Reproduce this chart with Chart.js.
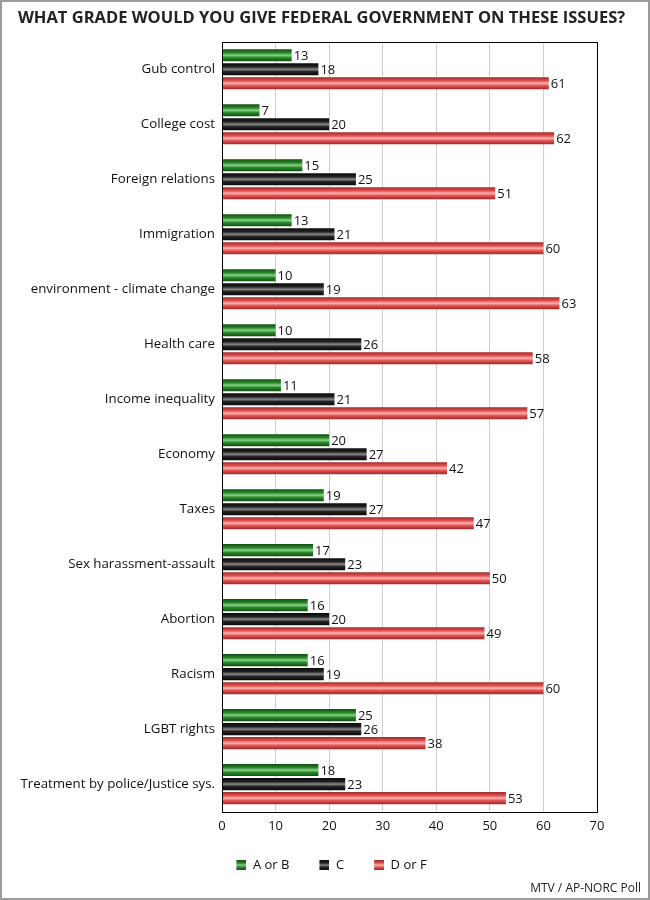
<!DOCTYPE html>
<html>
<head>
<meta charset="utf-8">
<script src="https://cdn.jsdelivr.net/npm/chart.js@4/dist/chart.umd.min.js"></script>
<style>
  html, body { margin: 0; padding: 0; background: #fff; }
  #wrap { width: 650px; height: 900px; box-sizing: border-box; border: 2px solid #9a9a9a; }
  #grade-graph { display: block; }
</style>
</head>
<body>
<div id="wrap"><canvas id="grade-graph" width="646" height="896"></canvas></div>
<script>
"use strict";

var issues = [
  "Gub control", "College cost", "Foreign relations", "Immigration",
  "environment - climate change", "Health care", "Income inequality",
  "Economy", "Taxes", "Sex harassment-assault", "Abortion", "Racism",
  "LGBT rights", "Treatment by police/Justice sys."
];
var seriesNames = ["A or B", "C", "D or F"];
var gradeAB = [13, 7, 15, 13, 10, 10, 11, 20, 19, 17, 16, 16, 25, 18];
var gradeC  = [18, 20, 25, 21, 19, 26, 21, 27, 27, 23, 20, 19, 26, 23];
var gradeDF = [61, 62, 51, 60, 63, 58, 57, 42, 47, 50, 49, 60, 38, 53];
var xTicks = [0, 10, 20, 30, 40, 50, 60, 70];

//NOTE 0 = A OR B (GREEN), 1 = C (BLACK), 2 = D OR F (RED)
var shades = [
  { edge: "#134d13", mid: "#2a872a", shine: "#86d486" },
  { edge: "#0a0a0a", mid: "#222222", shine: "#8a8a8a" },
  { edge: "#a02828", mid: "#e35252", shine: "#ffb3b3" }
];

var FONT = "'Open Sans', 'DejaVu Sans', sans-serif";
var LEGEND_GAP = 20; // blank room left of each legend swatch

function makeGradient(ctx, top, bottom, s)
{
  var g = ctx.createLinearGradient(0, top, 0, bottom);
  g.addColorStop(0, s.edge);
  g.addColorStop(0.3, s.mid);
  g.addColorStop(0.5, s.shine);
  g.addColorStop(0.7, s.mid);
  g.addColorStop(1, s.edge);
  return g;
}

function legendBox(s)
{
  var c = document.createElement("canvas");
  c.width = LEGEND_GAP + 10;
  c.height = 10;
  var x = c.getContext("2d");
  x.fillStyle = makeGradient(x, 0, 10, s);
  x.fillRect(LEGEND_GAP, 0, 10, 10);
  return c;
}

// shiny bars: swap each bar's fill for a vertical gradient before drawing
var shinePlugin = {
  id: "shine",
  beforeDatasetsDraw: function(chart) {
    var ctx = chart.ctx;
    chart.data.datasets.forEach(function(ds, i) {
      chart.getDatasetMeta(i).data.forEach(function(bar) {
        var h = bar.height;
        var opts = Object.assign({}, bar.options);
        opts.backgroundColor = makeGradient(ctx, bar.y - h / 2, bar.y + h / 2, shades[i]);
        bar.options = opts;
      });
    });
  },
  afterDatasetsDraw: function(chart) {
    var ctx = chart.ctx;
    ctx.save();
    ctx.font = "13px " + FONT;
    ctx.fillStyle = "#111";
    ctx.textBaseline = "middle";
    ctx.textAlign = "left";
    chart.data.datasets.forEach(function(ds, i) {
      chart.getDatasetMeta(i).data.forEach(function(bar, j) {
        ctx.fillText(String(ds.data[j]), bar.x + 2, bar.y + 1);
      });
    });
    //PLOT FRAME
    var a = chart.chartArea;
    ctx.strokeStyle = "#000";
    ctx.lineWidth = 1;
    ctx.strokeRect(Math.round(a.left) + 0.5, Math.round(a.top) + 0.5,
                   Math.round(a.right - a.left), Math.round(a.bottom - a.top));
    ctx.restore();
  }
};

var seriesData = [gradeAB, gradeC, gradeDF];
var datasets = seriesNames.map(function(name, i) {
  return {
    label: name,
    data: seriesData[i],
    backgroundColor: shades[i].mid,
    borderWidth: 0,
    categoryPercentage: 0.765,
    barPercentage: 0.86,
    pointStyle: legendBox(shades[i])
  };
});

var ctx = document.getElementById("grade-graph").getContext("2d");
var graph = new Chart(ctx, {
  type: "bar",
  data: { labels: issues, datasets: datasets },
  plugins: [shinePlugin],
  options: {
    indexAxis: "y",
    responsive: false,
    animation: false,
    layout: { padding: { top: 0, right: 7, bottom: 0, left: 0 } },
    scales: {
      x: {
        min: 0,
        max: 70,
        afterBuildTicks: function(scale) {
          scale.ticks = xTicks.map(function(v) { return { value: v }; });
        },
        afterFit: function(scale) {
          scale.paddingRight = 51;
          scale.height = 37;
        },
        grid: { color: "#cfcfcf", drawTicks: false },
        border: { display: false },
        ticks: { color: "#111", padding: 7, font: { family: FONT, size: 13 } }
      },
      y: {
        afterFit: function(scale) { scale.width = 220; },
        grid: { display: false, drawTicks: false },
        border: { display: false },
        ticks: { color: "#111", padding: 7, font: { family: FONT, size: 13.3 } }
      }
    },
    plugins: {
      title: {
        display: true,
        text: "WHAT GRADE WOULD YOU GIVE FEDERAL GOVERNMENT ON THESE ISSUES?",
        color: "#222",
        font: { family: FONT, size: 16.5, weight: "bold" },
        padding: { top: 6, bottom: 14 }
      },
      subtitle: {
        display: true,
        position: "bottom",
        align: "end",
        text: "MTV / AP-NORC Poll",
        color: "#222",
        font: { family: FONT, size: 12 },
        padding: { top: 0, bottom: 2 }
      },
      legend: {
        position: "bottom",
        labels: {
          usePointStyle: true,
          pointStyleWidth: LEGEND_GAP + 10,
          color: "#111",
          padding: 10,
          font: { family: FONT, size: 13 }
        }
      },
      tooltip: { enabled: false }
    }
  }
});
</script>
</body>
</html>
